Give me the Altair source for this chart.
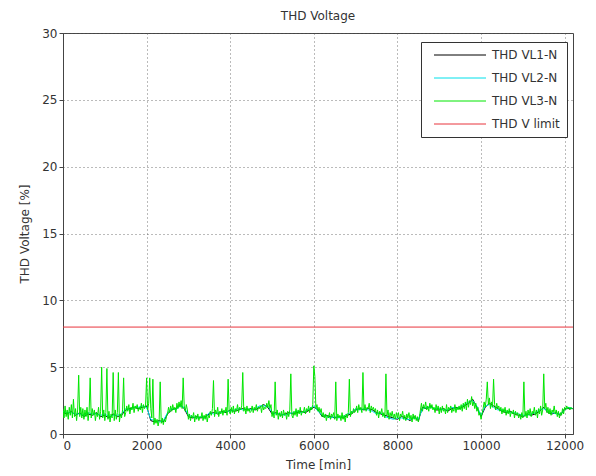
import altair as alt
import pandas as pd

# Harmonic distortion of the three phase voltages over the monitoring period

# VL3-N, sampled every 25 min from 0 to 12200 min
vl3_time = list(range(0, 12201, 25))
vl3_values = [
    1.9, 1.2, 2.1, 1.3, 1.8, 1.1, 2.0, 1.4, 2.2, 1.2, 2.6, 1.3, 1.9, 1.0, 1.8, 4.4, 1.3, 2.0, 1.2, 1.9,
    1.1, 1.8, 1.3, 2.0, 1.0, 1.7, 4.2, 1.2, 1.9, 1.4, 1.8, 1.0, 1.6, 1.3, 2.0, 1.1, 1.7, 5.0, 1.2, 1.8,
    1.0, 1.6, 4.9, 1.1, 1.7, 0.9, 1.5, 1.2, 4.6, 1.0, 1.8, 1.1, 1.6, 4.6, 0.9, 1.5, 1.2, 1.8, 4.2, 1.3,
    1.6, 2.1, 1.7, 2.2, 1.5, 2.0, 1.8, 2.3, 1.6, 2.1, 1.9, 2.2, 1.7, 2.0, 1.8, 2.3, 1.6, 2.2, 1.9, 2.1,
    4.2, 1.8, 2.3, 4.2, 1.9, 1.2, 4.1, 0.7, 1.2, 0.8, 1.1, 0.6, 1.0, 3.9, 0.8, 1.2, 0.7, 1.1, 0.9, 1.3,
    1.5, 2.0, 1.6, 2.1, 1.7, 2.2, 1.8, 2.0, 1.6, 2.3, 1.9, 2.4, 2.0, 2.5, 1.9, 4.2, 2.1, 1.7, 2.2, 1.8,
    1.1, 1.5, 1.0, 1.4, 1.2, 1.6, 0.9, 1.4, 1.1, 1.5, 1.0, 1.3, 1.2, 1.6, 1.0, 1.4, 1.1, 1.5, 0.9, 1.4,
    1.2, 1.7, 1.4, 1.9, 4.0, 1.3, 1.8, 1.5, 2.0, 1.3, 1.7, 1.5, 1.9, 1.4, 1.8, 1.6, 2.0, 1.4, 4.1, 1.7,
    1.5, 2.0, 1.6, 2.1, 1.5, 1.9, 1.7, 2.2, 1.6, 2.0, 1.8, 2.1, 4.6, 1.7, 2.0, 1.5, 2.1, 1.7, 1.9, 1.6,
    1.7, 2.1, 1.6, 2.0, 1.8, 2.2, 1.7, 2.0, 1.9, 2.1, 1.6, 2.2, 1.8, 2.0, 1.9, 2.3, 2.0, 2.5, 1.9, 2.2,
    1.3, 1.7, 1.2, 3.9, 1.4, 1.8, 1.1, 1.6, 1.3, 1.7, 1.2, 1.8, 1.4, 1.6, 1.1, 1.7, 1.3, 1.8, 4.5, 1.4,
    1.2, 1.7, 1.4, 1.9, 1.3, 1.8, 1.5, 2.0, 1.4, 1.7, 1.6, 2.0, 1.5, 1.9, 1.7, 2.1, 1.6, 2.0, 1.8, 2.2,
    5.1, 4.3, 1.9, 2.2, 1.7, 2.0, 1.6, 1.9, 1.3, 1.6, 1.2, 1.5, 1.0, 1.4, 1.2, 1.6, 1.1, 1.5, 1.3, 1.6,
    1.1, 3.9, 1.0, 1.5, 1.2, 1.4, 1.0, 1.6, 1.1, 1.4, 0.9, 1.5, 1.2, 1.6, 4.1, 1.3, 1.7, 1.5, 1.9, 1.6,
    1.7, 2.1, 1.6, 2.2, 1.8, 2.0, 1.6, 4.6, 1.8, 2.2, 1.7, 2.0, 1.9, 2.3, 1.6, 2.1, 1.8, 2.0, 1.7, 1.9,
    1.4, 1.8, 1.2, 1.7, 1.5, 1.9, 1.3, 1.6, 1.2, 4.5, 1.4, 1.8, 1.1, 1.6, 1.3, 1.7, 1.2, 1.5, 1.1, 1.6,
    1.2, 1.6, 1.0, 1.5, 1.3, 1.7, 1.1, 1.4, 1.0, 1.5, 1.2, 1.6, 1.1, 1.4, 0.9, 1.5, 1.1, 1.4, 1.0, 1.3,
    0.9, 1.2, 1.8, 2.3, 1.7, 2.2, 1.9, 2.4, 1.8, 2.1, 1.7, 2.3, 1.9, 2.2, 1.8, 2.0, 1.6, 2.2, 1.8, 2.1,
    1.5, 2.0, 1.6, 2.1, 1.7, 1.9, 1.5, 2.2, 1.6, 2.0, 1.8, 2.1, 1.6, 1.9, 1.7, 2.2, 1.6, 2.0, 1.8, 2.1,
    1.8, 2.2, 1.7, 2.3, 1.9, 2.4, 1.8, 2.6, 2.0, 2.5, 2.2, 2.8, 2.1, 2.4, 1.9, 2.3, 1.7, 2.0, 1.4, 1.6,
    1.1, 1.5, 1.9, 2.4, 2.0, 2.6, 3.9, 2.2, 2.7, 1.9, 2.4, 2.0, 4.1, 2.2, 1.8, 2.3, 1.9, 2.1, 1.7, 2.0,
    1.5, 1.9, 1.6, 2.0, 1.4, 1.8, 1.5, 1.9, 1.3, 1.7, 1.5, 1.8, 1.2, 1.7, 1.4, 1.6, 1.2, 1.5, 1.1, 1.6,
    1.2, 3.9, 1.3, 1.7, 1.2, 1.8, 1.4, 1.9, 1.3, 1.7, 1.5, 2.0, 1.4, 1.8, 1.2, 1.9, 1.5, 2.1, 1.4, 1.8,
    4.5, 1.9, 2.3, 1.6, 2.0, 1.5, 1.9, 1.4, 1.8, 1.6, 2.1, 1.5, 1.8, 1.3, 1.7, 1.2, 1.6, 1.4, 1.9, 1.5,
    2.0, 1.8, 2.1, 1.9, 2.0, 1.8, 2.0, 1.9, 1.9,
]

# VL1-N and VL2-N, sampled every 100 min
vl12_time = list(range(0, 12201, 100))
vl1_values = [
    1.6, 1.5, 1.7, 1.4, 1.6, 1.3, 1.5, 1.4, 1.6, 1.3,
    1.4, 1.2, 1.5, 1.3, 1.4, 1.8, 1.9, 2.0, 1.9, 2.0,
    2.1, 1.0, 0.9, 1.0, 0.9, 1.5, 1.8, 1.9, 2.2, 1.9,
    1.3, 1.2, 1.3, 1.2, 1.3, 1.5, 1.6, 1.5, 1.7, 1.6,
    1.8, 1.7, 1.8, 1.9, 1.8, 1.9, 1.8, 2.0, 2.2, 2.0,
    1.5, 1.6, 1.4, 1.5, 1.6, 1.5, 1.6, 1.7, 1.6, 1.8,
    2.0, 1.8, 1.3, 1.4, 1.3, 1.2, 1.3, 1.2, 1.4, 1.5,
    1.8, 1.9, 1.8, 1.9, 1.8, 1.6, 1.5, 1.4, 1.3, 1.2,
    1.1, 1.3, 1.2, 1.0, 1.3, 1.0, 2.0, 1.9, 2.1, 1.8,
    1.8, 1.9, 1.7, 1.9, 2.0, 1.9, 2.1, 2.3, 2.6, 2.0,
    1.3, 2.0, 2.3, 2.1, 1.9, 1.7, 1.6, 1.7, 1.5, 1.4,
    1.3, 1.5, 1.4, 1.5, 1.7, 2.0, 1.6, 1.5, 1.6, 1.4,
    1.9, 1.9, 1.9,
]
vl2_values = [
    1.7, 1.6, 1.6, 1.5, 1.5, 1.4, 1.6, 1.5, 1.5, 1.4,
    1.5, 1.3, 1.4, 1.4, 1.5, 1.9, 1.8, 2.0, 2.0, 2.1,
    2.0, 1.1, 1.0, 0.9, 1.0, 1.6, 1.9, 1.8, 2.1, 2.0,
    1.4, 1.3, 1.2, 1.3, 1.2, 1.6, 1.5, 1.6, 1.6, 1.7,
    1.7, 1.8, 1.9, 1.8, 1.9, 1.8, 1.9, 2.1, 2.1, 2.1,
    1.6, 1.5, 1.5, 1.4, 1.5, 1.6, 1.7, 1.6, 1.7, 1.9,
    2.1, 1.7, 1.4, 1.3, 1.2, 1.3, 1.2, 1.3, 1.5, 1.6,
    1.9, 1.8, 1.9, 1.8, 1.7, 1.5, 1.6, 1.3, 1.2, 1.1,
    1.2, 1.2, 1.1, 1.1, 1.2, 1.1, 1.9, 2.0, 2.0, 1.9,
    1.9, 1.8, 1.8, 2.0, 1.9, 2.0, 2.2, 2.4, 2.5, 2.1,
    1.4, 2.1, 2.2, 2.0, 1.8, 1.8, 1.7, 1.6, 1.6, 1.5,
    1.4, 1.4, 1.5, 1.6, 1.8, 1.9, 1.7, 1.6, 1.5, 1.5,
    1.8, 2.0, 1.9,
]

# THD limit
limit_time = [0, 12200]
limit_values = [8, 8]

series_names = ["THD VL1-N", "THD VL2-N", "THD VL3-N", "THD V limit"]
series_colors = ["#000000", "#00e0ea", "#00e600", "#e8343c"]

frames = [
    pd.DataFrame({"t": vl12_time, "v": vl1_values, "s": series_names[0]}),
    pd.DataFrame({"t": vl12_time, "v": vl2_values, "s": series_names[1]}),
    pd.DataFrame({"t": vl3_time, "v": vl3_values, "s": series_names[2]}),
    pd.DataFrame({"t": limit_time, "v": limit_values, "s": series_names[3]}),
]
df = pd.concat(frames, ignore_index=True)

FONT = "DejaVu Sans"

color = alt.Color(
    "s:N",
    scale=alt.Scale(domain=series_names, range=series_colors),
    legend=alt.Legend(
        title=None,
        orient="none",
        legendX=358,
        legendY=9,
        symbolType="M0,0H52",
        symbolSize=4,
        symbolStrokeWidth=1,
        labelOffset=52,
        labelFont=FONT,
        labelFontSize=12,
        labelColor="#333333",
        rowPadding=11,
        padding=7,
        strokeColor="#333333",
        fillColor="white",
    ),
)

x = alt.X(
    "t:Q",
    title="Time [min]",
    scale=alt.Scale(domain=[0, 12200], nice=False, zero=False),
    axis=alt.Axis(values=list(range(0, 12001, 2000)), format="d"),
)
y = alt.Y(
    "v:Q",
    title="THD Voltage [%]",
    scale=alt.Scale(domain=[0, 30], nice=False),
    axis=alt.Axis(values=list(range(0, 31, 5))),
)

base = alt.Chart(df).mark_line(strokeWidth=1, clip=True).encode(
    x=x, y=y, color=color, detail="s:N"
)

# one layer per series so that VL3-N sits above VL1-N/VL2-N
layers = [
    base.transform_filter(alt.datum.s == name) for name in series_names
]

chart = (
    alt.layer(*layers)
    .properties(
        width=510,
        height=401,
        title=alt.TitleParams(
            "THD Voltage", font=FONT, fontSize=12, fontWeight="normal",
            color="#333333", offset=4, anchor="middle",
        ),
        autosize=alt.AutoSizeParams(type="none"),
        padding={"left": 63, "top": 33, "right": 23, "bottom": 42},
        background="white",
    )
    .configure_view(stroke="#444444", strokeWidth=1)
    .configure_axis(
        labelFont=FONT,
        labelFontSize=12,
        labelColor="#333333",
        titleFont=FONT,
        titleFontSize=12,
        titleFontWeight="normal",
        titleColor="#333333",
        domainColor="#444444",
        tickColor="#444444",
        tickSize=4,
        labelPadding=2,
        grid=True,
        gridColor="#555555",
        gridDash=[1, 3],
        gridWidth=1,
        gridOpacity=0.8,
    )
    .configure_axisX(titlePadding=8)
    .configure_axisY(titlePadding=10)
)

chart.save("out.html", embed_options={"renderer": "svg", "actions": False})
